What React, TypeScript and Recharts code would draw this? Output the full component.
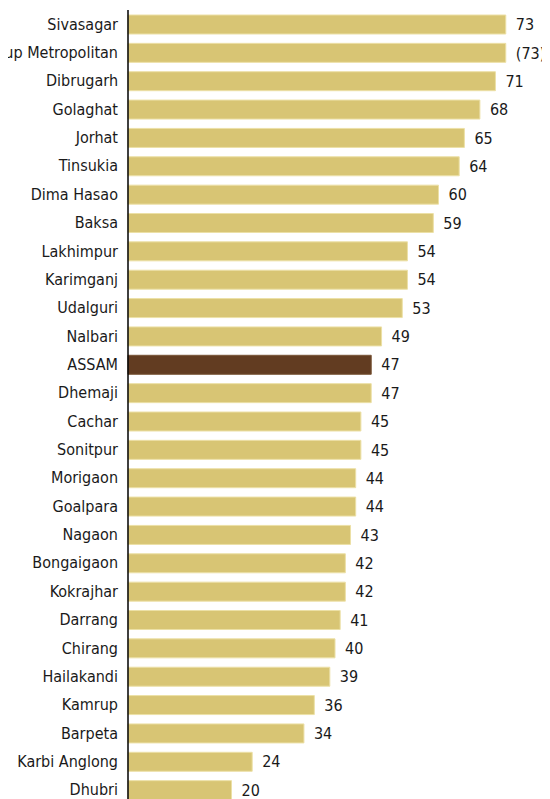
import React from "react";
import { BarChart, Bar, XAxis, YAxis, Cell, LabelList } from "recharts";

const districts = [
  "Sivasagar", "Kamrup Metropolitan", "Dibrugarh", "Golaghat", "Jorhat", "Tinsukia",
  "Dima Hasao", "Baksa", "Lakhimpur", "Karimganj", "Udalguri", "Nalbari", "ASSAM",
  "Dhemaji", "Cachar", "Sonitpur", "Morigaon", "Goalpara", "Nagaon", "Bongaigaon",
  "Kokrajhar", "Darrang", "Chirang", "Hailakandi", "Kamrup", "Barpeta", "Karbi Anglong", "Dhubri",
];
const values = [73, 73, 71, 68, 65, 64, 60, 59, 54, 54, 53, 49, 47, 47, 45, 45, 44, 44, 43, 42, 42, 41, 40, 39, 36, 34, 24, 20];
const valueLabels = ["73", "(73)", "71", "68", "65", "64", "60", "59", "54", "54", "53", "49", "47", "47", "45", "45", "44", "44", "43", "42", "42", "41", "40", "39", "36", "34", "24", "20"];
const highlight = "ASSAM";

const data = districts.map((d, i) => ({ name: d, value: values[i], label: valueLabels[i] }));

const FONT = "'Liberation Sans Narrow', 'Arial Narrow', 'DejaVu Sans Condensed', sans-serif";

const Tick = (props: any) => {
  const { x, y, payload } = props;
  return (
    <text
      x={x - 2}
      y={y}
      textAnchor="end"
      dominantBaseline="central"
      fill="#1a1a1a"
      fontSize={16}
      fontFamily={FONT}
    >
      {payload.value}
    </text>
  );
};

export default function App() {
  return (
    <BarChart
      width={542}
      height={796}
      data={data}
      layout="vertical"
      margin={{ top: 2, right: 8, bottom: 0, left: 0 }}
      barSize={19}
      style={{ overflow: "visible" }}
    >
      <XAxis type="number" domain={[0, 80]} hide />
      <YAxis
        type="category"
        dataKey="name"
        width={120}
        tickLine={false}
        axisLine={{ stroke: "#000", strokeWidth: 1.5 }}
        interval={0}
        tick={<Tick />}
      />
      <Bar dataKey="value" isAnimationActive={false} strokeWidth={1}>
        {data.map((d) => (
          <Cell
            key={d.name}
            fill={d.name === highlight ? "#623C21" : "#D8C574"}
            stroke={d.name === highlight ? "#7A5638" : "#ECE0A6"}
          />
        ))}
        <LabelList
          dataKey="label"
          position="right"
          offset={10}
          style={{ fill: "#1a1a1a", fontSize: 16, fontFamily: FONT }}
        />
      </Bar>
    </BarChart>
  );
}
